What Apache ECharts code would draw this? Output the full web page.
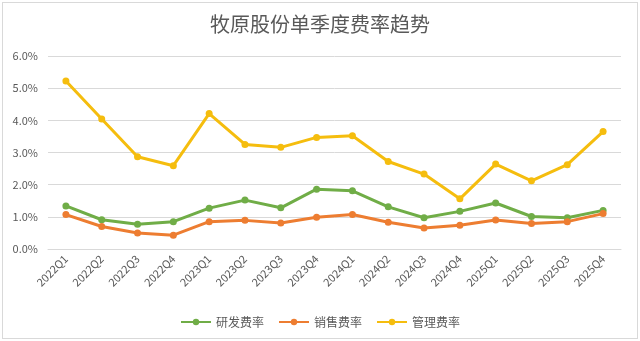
<!DOCTYPE html>
<html><head><meta charset="utf-8">
<script src="https://cdn.jsdelivr.net/npm/echarts@6/dist/echarts.min.js"></script>
<style>
html,body{margin:0;padding:0;background:#fff;}
#frame{position:absolute;left:2px;top:2px;width:636px;height:337px;border:1px solid #d9d9d9;box-sizing:border-box;}
#c{position:absolute;left:0;top:0;width:640px;height:341px;}
</style></head>
<body>
<div id="frame"></div>
<div id="c"></div>
<script>
const categories = ['2022Q1','2022Q2','2022Q3','2022Q4','2023Q1','2023Q2','2023Q3','2023Q4','2024Q1','2024Q2','2024Q3','2024Q4','2025Q1','2025Q2','2025Q3','2025Q4'];
const rdRate = [1.34,0.91,0.77,0.85,1.27,1.52,1.28,1.86,1.81,1.31,0.97,1.17,1.43,1.01,0.97,1.20];
const salesRate = [1.07,0.70,0.50,0.43,0.85,0.89,0.81,0.99,1.07,0.83,0.65,0.74,0.90,0.79,0.85,1.10];
const adminRate = [5.22,4.04,2.87,2.59,4.21,3.25,3.16,3.47,3.52,2.72,2.33,1.56,2.64,2.12,2.62,3.65];
const seriesNames = ['研发费率','销售费率','管理费率'];
const colors = ['#70AD47','#ED7D31','#F5BD0E'];
const font = '"Noto Sans CJK SC","Microsoft YaHei",sans-serif';
const chart = echarts.init(document.getElementById('c'));
const mk = (name, data, color) => ({
  name, type:'line', data, color,
  symbol:'circle', symbolSize:7,
  lineStyle:{width:3, color},
  itemStyle:{color},
  z: 2
});
chart.setOption({
  animation:false,
  title:{text:'牧原股份单季度费率趋势', left:'center', top:9,
    textStyle:{fontFamily:font, fontSize:20, fontWeight:'normal', color:'#595959'}},
  grid:{left:48, right:19, top:56, bottom:92},
  legend:{top:311, left:'center', itemWidth:30, itemHeight:8, itemGap:14,
    textStyle:{fontFamily:font, fontSize:12, color:'#595959'},
    data:seriesNames},
  xAxis:{type:'category', data:categories, boundaryGap:true,
    axisLine:{show:true, lineStyle:{color:'#d9d9d9'}}, axisTick:{show:false},
    axisLabel:{rotate:45, fontFamily:font, fontSize:11, color:'#595959', margin:8, interval:0}},
  yAxis:{type:'value', min:0, max:6, interval:1,
    axisLabel:{formatter:v=>v.toFixed(1)+'%', fontFamily:font, fontSize:11, color:'#595959', margin:10},
    axisLine:{show:false}, axisTick:{show:false},
    splitLine:{lineStyle:{color:'#d9d9d9', width:1}}},
  series:[mk(seriesNames[0], rdRate, colors[0]), mk(seriesNames[1], salesRate, colors[1]), mk(seriesNames[2], adminRate, colors[2])]
});
</script>
</body></html>
